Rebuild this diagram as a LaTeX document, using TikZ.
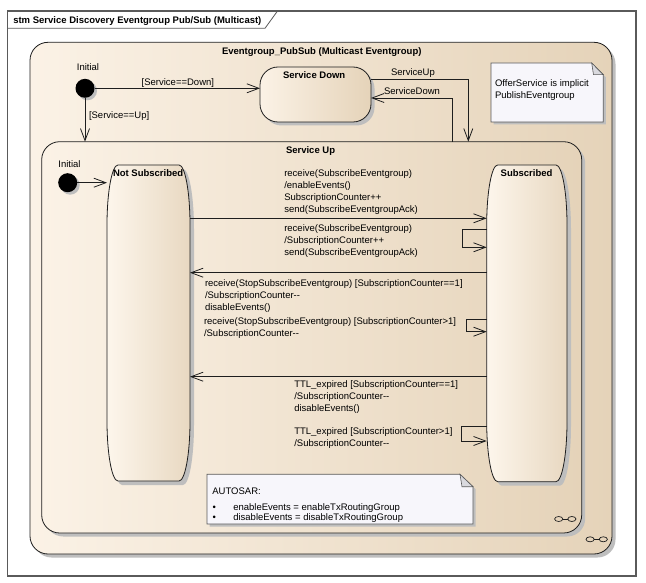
\documentclass[tikz,border=0pt]{standalone}
\usepackage{fontspec}
\setmainfont{Liberation Sans}
\usetikzlibrary{arrows.meta,shadows}
\definecolor{stL}{HTML}{FBF2E6}
\definecolor{stR}{HTML}{E5D3B9}
\definecolor{tallL}{HTML}{FDF6EC}
\definecolor{tallM}{HTML}{FAF0E2}
\definecolor{tallR}{HTML}{E8D8C1}
\definecolor{frameC}{HTML}{5A5A5A}
\definecolor{shadowC}{HTML}{BEBEBE}
\definecolor{noteC}{HTML}{F7F6FB}
\definecolor{foldC}{HTML}{D9D9DE}
\definecolor{lineC}{HTML}{1E1E1E}
\newcommand\ml[1]{\begin{tabular}[t]{@{}l@{}}#1\end{tabular}}
\newcommand\bul{\makebox[20.6pt][l]{\textbullet}}
% tall state: x1, y1, x2, y2
\newcommand\tallstate[4]{%
  \fill[shadowC,xshift=4pt,yshift=-4pt] (#1,{#2+60}) .. controls (#1,{#2+26.9}) and ({#1+4.93},#2) .. ({#1+11},#2) -- ({#3-11},#2) .. controls ({#3-4.93},#2) and (#3,{#2+26.9}) .. (#3,{#2+60}) -- (#3,{#4-60}) .. controls (#3,{#4-26.9}) and ({#3-4.93},#4) .. ({#3-11},#4) -- ({#1+11},#4) .. controls ({#1+4.93},#4) and (#1,{#4-26.9}) .. (#1,{#4-60}) -- cycle;
  \draw[tallbox] (#1,{#2+60}) .. controls (#1,{#2+26.9}) and ({#1+4.93},#2) .. ({#1+11},#2) -- ({#3-11},#2) .. controls ({#3-4.93},#2) and (#3,{#2+26.9}) .. (#3,{#2+60}) -- (#3,{#4-60}) .. controls (#3,{#4-26.9}) and ({#3-4.93},#4) .. ({#3-11},#4) -- ({#1+11},#4) .. controls ({#1+4.93},#4) and (#1,{#4-26.9}) .. (#1,{#4-60}) -- cycle;}
\newcommand\compicon[2]{%
  \draw[iconline] ({#1-6.6},#2) ellipse [x radius=4.1pt, y radius=2.5pt];
  \draw[iconline] ({#1+6.6},#2) ellipse [x radius=4.1pt, y radius=2.5pt];
  \draw[iconline] ({#1-2.5},#2) -- ({#1+2.5},#2);}
\begin{document}
\begin{tikzpicture}[x=1pt,y=-1pt,
  every node/.style={font=\fontsize{9.5}{12}\selectfont, text=black, inner sep=0pt, outer sep=0pt},
  lbl/.style={anchor=base west},
  ttl/.style={anchor=base west, font=\fontsize{9.5}{12}\selectfont\bfseries},
  statebox/.style={anchor=north west, draw=lineC, line width=0.8pt, rounded corners=18pt,
    left color=stL, right color=stR,
    drop shadow={shadow xshift=3.5pt, shadow yshift=-3.5pt, fill=shadowC, opacity=1}},
  tallbox/.style={draw=lineC, line width=0.8pt, left color=tallL, middle color=tallM, right color=tallR},
  anchorbox/.style={anchor=north west, draw=none},
  initdot/.style={circle, fill=black, minimum size=19pt,
    drop shadow={shadow xshift=2.5pt, shadow yshift=-2.5pt, fill=shadowC, opacity=1}},
  arr/.style={draw=lineC, line width=0.8pt, -{Straight Barb[length=12pt,width=9pt,line width=0.8pt]}},
  notebox/.style={draw=frameC, line width=0.7pt, fill=noteC,
    drop shadow={shadow xshift=2.5pt, shadow yshift=-2.5pt, fill=shadowC, opacity=1}},
  foldbox/.style={draw=frameC, line width=0.6pt, fill=foldC},
  iconline/.style={draw=lineC, line width=0.7pt},
  framebox/.style={draw=frameC, line width=1.2pt}
]
\useasboundingbox (0,0) rectangle (646,583);
\fill[white] (0,0) rectangle (646,583);

% diagram frame
\draw[framebox] (7.5,11) rectangle (636,576);
\draw[draw=frameC, line width=0.8pt] (7.5,28.3) -- (265,28.3) -- (277.5,11);
\node[ttl] (frametitle) at (13.3,23.5) {stm Service Discovery Eventgroup Pub/Sub (Multicast)};

% outer composite state
\node[statebox, minimum width=582pt, minimum height=511.7pt] (pubsub) at (30,42.3) {};
\node[ttl] (pubsubtitle) at (222,54.5) {Eventgroup\_PubSub (Multicast Eventgroup)};

% Service Down
\node[statebox, minimum width=111pt, minimum height=55pt] (servicedown) at (260,67) {};
\node[ttl] (servicedowntitle) at (283,78.5) {Service Down};

% Service Up
\node[statebox, minimum width=540pt, minimum height=391.3pt] (serviceup) at (41.7,141.7) {};
\node[ttl] (serviceuptitle) at (286,153.5) {Service Up};

% note 1
\draw[notebox] (491,63) -- (591.7,63) -- (603.3,74.7) -- (603.3,122) -- (491,122) -- cycle;
\draw[foldbox] (591.7,63) -- (603.3,74.7) -- (593.5,74.7) -- cycle;
\node[lbl] (note1) at (495,86.2) {\ml{OfferService is implicit\\PublishEventgroup}};

% outer initial
\node[initdot] (init1) at (85,88.3) {};
\node[anchor=base] (init1lbl) at (88,70.5) {Initial};
\draw[arr] (init1) -- (servicedown.west |- init1);
\node[lbl] (lbldown) at (141.7,85.8) {[Service==Down]};
\draw[arr] (init1) -- (init1 |- serviceup.north);
\node[lbl] (lblup) at (89,118.5) {[Service==Up]};

% Service Down <-> Service Up
\coordinate (yA) at (0,79.3);
\coordinate (xA) at (468.3,0);
\coordinate (yB) at (0,98);
\coordinate (xB) at (452.3,0);
\draw[arr] (servicedown.east |- yA) -| (xA |- serviceup.north);
\node[lbl] (lblsu) at (391,75.8) {ServiceUp};
\draw[arr] (xB |- serviceup.north) |- (servicedown.east |- yB);
\node[lbl] (lblsd) at (384,94.2) {ServiceDown};

% tall states
\tallstate{107}{165}{190}{481}
\node[anchorbox, minimum width=83pt, minimum height=316pt] (notsub) at (107,165) {};
\node[ttl] (notsubtitle) at (113,176.5) {Not Subscribed};
\tallstate{486.7}{165}{567}{481.7}
\node[anchorbox, minimum width=80.3pt, minimum height=316.7pt] (sub) at (486.7,165) {};
\node[ttl] (subtitle) at (500.7,176.5) {Subscribed};

% inner initial
\node[initdot] (init2) at (67.7,182.7) {};
\node[anchor=base] (init2lbl) at (69.5,167.8) {Initial};
\draw[arr] (init2) -- (notsub.west |- init2);

% transitions inside Service Up
\coordinate (y1) at (0,218.3);
\draw[arr] (notsub.east |- y1) -- (sub.west |- y1);
\node[lbl] (lt1) at (284.3,176.8) {\ml{receive(SubscribeEventgroup)\\/enableEvents()\\SubscriptionCounter++\\send(SubscribeEventgroupAck)}};

\coordinate (l1t) at (462.7,229.3);
\coordinate (l1b) at (0,247.3);
\draw[arr] (sub.west |- l1t) -- (l1t) |- (sub.west |- l1b);
\node[lbl] (lt2) at (284.3,231.8) {\ml{receive(SubscribeEventgroup)\\/SubscriptionCounter++\\send(SubscribeEventgroupAck)}};

\coordinate (y3) at (0,272.7);
\draw[arr] (sub.west |- y3) -- (notsub.east |- y3);
\node[lbl] (lt3) at (205,286.8) {\ml{receive(StopSubscribeEventgroup) [SubscriptionCounter==1]\\/SubscriptionCounter-{}-\\disableEvents()}};

\coordinate (l2t) at (466.7,319.3);
\coordinate (l2b) at (0,331.7);
\draw[arr] (sub.west |- l2t) -- (l2t) |- (sub.west |- l2b);
\node[lbl] (lt4) at (204,324.5) {\ml{receive(StopSubscribeEventgroup) [SubscriptionCounter>1]\\/SubscriptionCounter-{}-}};

\coordinate (y5) at (0,376.7);
\draw[arr] (sub.west |- y5) -- (notsub.east |- y5);
\node[lbl] (lt5) at (294.3,387.8) {\ml{TTL\_expired [SubscriptionCounter==1]\\/SubscriptionCounter-{}-\\disableEvents()}};

\coordinate (l3t) at (461,426.7);
\coordinate (l3b) at (0,441);
\draw[arr] (sub.west |- l3t) -- (l3t) |- (sub.west |- l3b);
\node[lbl] (lt6) at (294.3,434.2) {\ml{TTL\_expired [SubscriptionCounter>1]\\/SubscriptionCounter-{}-}};

% AUTOSAR note
\draw[notebox] (207,474.3) -- (460,474.3) -- (473,486.7) -- (473,524) -- (207,524) -- cycle;
\draw[foldbox] (460,474.3) -- (473,486.7) -- (462,486.7) -- cycle;
\node[lbl] (autosar1) at (212.4,494.5) {AUTOSAR:};
\node[lbl] (autosar2) at (212.7,510.2) {\bul enableEvents = enableTxRoutingGroup};
\node[lbl] (autosar3) at (212.7,520.8) {\bul disableEvents = disableTxRoutingGroup};

% composite state icons
\compicon{565.3}{519}
\compicon{596.7}{539.3}
\end{tikzpicture}
\end{document}
